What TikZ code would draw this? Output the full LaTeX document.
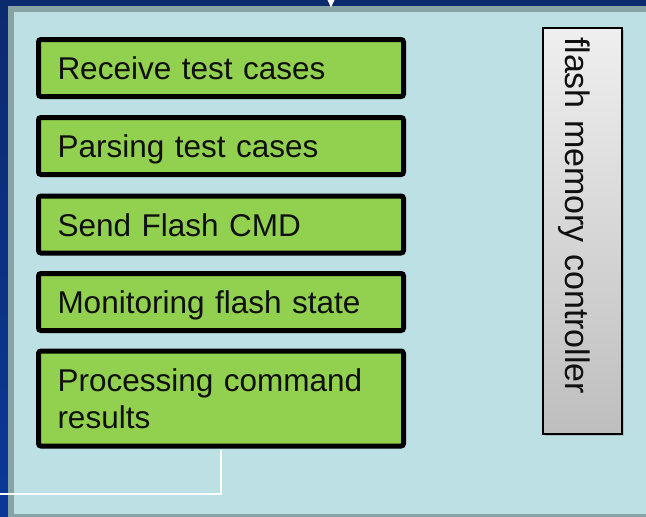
\documentclass[tikz,border=0pt]{standalone}
\usepackage{fontspec}
\setmainfont{Liberation Sans}
\usetikzlibrary{shadows}
\definecolor{bgtop}{HTML}{0C2A6E}
\definecolor{bgbot}{HTML}{0B3898}
\definecolor{framegray}{HTML}{88A3A6}
\definecolor{panelcyan}{HTML}{BCE0E3}
\definecolor{stepgreen}{HTML}{92D050}
\definecolor{ctrltop}{HTML}{EFEFEF}
\definecolor{ctrlbot}{HTML}{BEBEBE}
\definecolor{inktext}{HTML}{101010}

\begin{document}
\begin{tikzpicture}[x=1pt,y=-1pt,
  task/.style={draw=black, line width=5pt, fill=stepgreen, rounded corners=2.5pt,
    minimum width=365pt, text width=327pt, inner xsep=19pt, inner ysep=0pt,
    align=left, text=inktext, font=\fontsize{31.5}{37}\selectfont},
  oneline/.style={task, minimum height=57pt, text height=23pt, text depth=0pt},
  twoline/.style={task, minimum height=95pt},
  ctrl/.style={rotate=-90, draw=black, line width=1.5pt,
    top color=ctrltop, bottom color=ctrlbot,
    minimum height=79pt, text width=388pt, inner xsep=9pt, inner ysep=0pt,
    align=left, text height=34pt, text depth=0pt, text=inktext,
    font=\fontsize{34}{40}\selectfont,
    drop shadow={shadow xshift=1.5pt, shadow yshift=-2pt, opacity=0.35}},
  link/.style={draw=white, line width=2pt}
]
  % page area
  \useasboundingbox (0,0) rectangle (646,517);
  \shade[top color=bgtop, bottom color=bgbot] (0,0) rectangle (646,517);
  % framed panel
  \fill[framegray] (8,6) rectangle (660,530);
  \fill[panelcyan] (14,12) rectangle (660,514);
  % incoming arrow tip at the top edge
  \fill[white] (327.5,0) -- (334.5,0) -- (331,7.5) -- cycle;

  % processing steps
  \node[oneline] (recv)  at (221,68)    {Receive test cases};
  \node[oneline] (parse) at (221,146)   {Parsing test cases};
  \node[oneline] (send)  at (221,224.5) {Send Flash CMD};
  \node[oneline] (mon)   at (221,302)   {Monitoring flash state};
  \node[twoline] (proc)  at (221,398.5) {Processing command\\results};

  % controller block
  \node[ctrl] (fmc) at (582.5,231) {flash memory controller};

  % outgoing connector
  \coordinate (exit) at (0,494);
  \draw[link] (proc.south) ++(0,1.5) |- (exit);
\end{tikzpicture}
\end{document}
